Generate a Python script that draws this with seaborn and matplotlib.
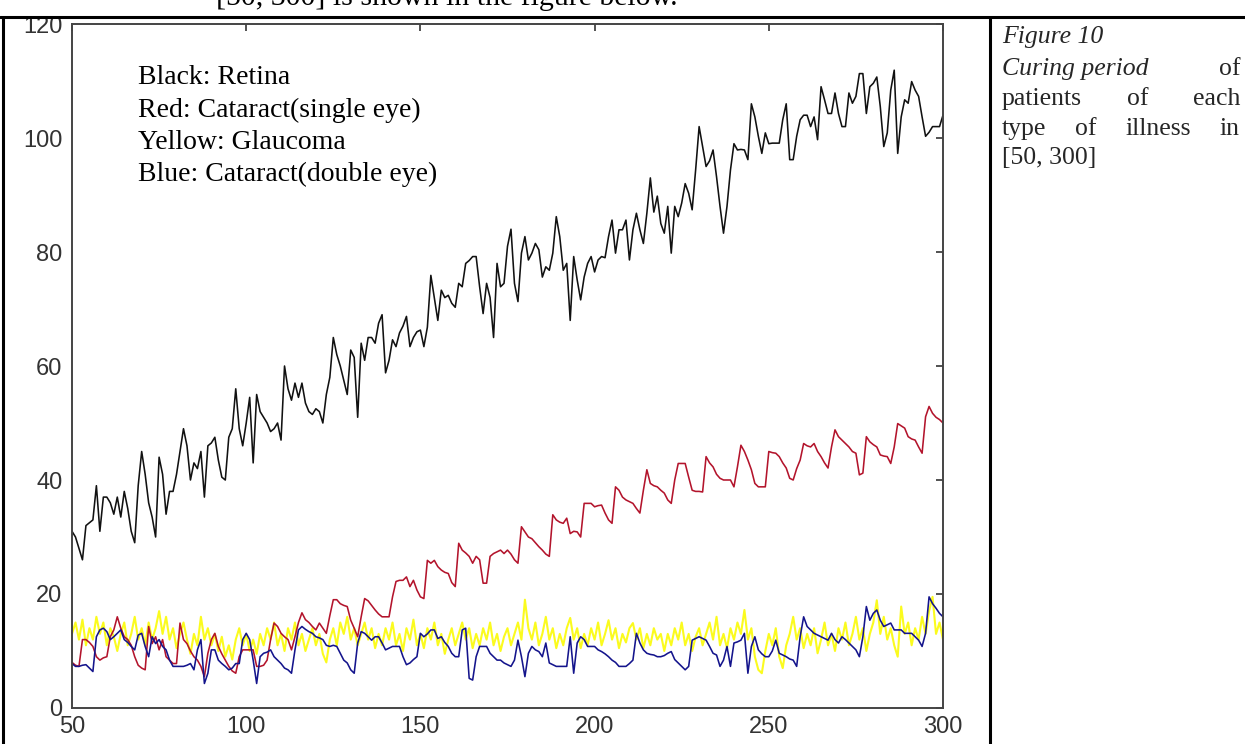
import matplotlib
matplotlib.use("Agg")
import matplotlib.pyplot as plt
from matplotlib.lines import Line2D
import numpy as np
import pandas as pd
import seaborn as sns

# ---------------- data ----------------
days = list(range(50, 301))

retina = [
    31, 30, 28, 26, 32, 32.5, 33, 39, 31, 37,
    37, 36, 34, 37, 33.5, 38, 35, 31, 29, 39,
    45, 41, 36, 33.5, 30, 44, 41, 34, 38, 38,
    41, 45, 49, 46, 40, 43, 42, 45, 37, 46,
    46.5, 47.5, 43.5, 40.5, 40, 47.5, 49, 56, 49, 46,
    50, 54.5, 43, 55, 52, 51, 50, 48.5, 49, 50,
    47, 60, 56, 54, 57, 54.5, 57, 53.5, 52, 51.5,
    52.5, 52, 50, 55, 58, 65, 62, 60, 57.5, 55,
    62.8, 61.5, 51, 64, 61, 65, 65, 64, 67.5, 69,
    58.8, 61, 64.6, 63.4, 65.8, 67, 68.7, 63.4, 65, 66,
    66.3, 63.4, 66.8, 75.9, 72, 68, 73.3, 72, 72.4, 71,
    70.3, 74.5, 73.9, 78, 78.5, 79.2, 79.2, 73.9, 69.2, 74.5,
    72, 65, 78, 73.9, 74.5, 81, 84, 74.5, 71.3, 79.8,
    82.7, 78.6, 79.8, 81.5, 80.4, 75.6, 77.4, 76.8, 79.8, 86.2,
    82.7, 76.8, 78, 68, 79.2, 75.1, 71.6, 75.6, 78, 79.2,
    76.5, 78.6, 79.2, 79, 82.7, 85.6, 79.8, 83.9, 83.9, 85.6,
    78.6, 83.9, 86.8, 83.9, 81.5, 86.8, 93, 87, 89.8, 85,
    83.3, 88, 79.8, 88, 86.2, 88.6, 92, 90.3, 87.4, 94.4,
    102, 98.5, 95, 96, 97.9, 93.2, 88, 83.3, 88, 94.4,
    99, 97.9, 98, 97.9, 96.2, 106, 103.7, 100.3, 97.3, 100.9,
    99, 99.1, 99.1, 99.1, 103.2, 106, 96.2, 96.2, 100.3, 103.2,
    104, 104, 102, 103.7, 99.7, 109, 106.7, 104.3, 104.3, 107.9,
    104.3, 102, 102, 107.9, 106.1, 107.3, 111.3, 111.3, 104.3, 109,
    109.6, 110.7, 105.5, 98.5, 100.9, 108.4, 111.9, 97.3, 103.7, 106.7,
    106.1, 109.9, 108.4, 107.3, 103.7, 100.3, 101, 102, 102, 102,
    104,
]

cataract_single = [
    8, 7.5, 7.3, 12, 12, 11.5, 10.8, 9, 8.4, 8.8,
    9, 12.5, 13.7, 16, 14, 12.5, 12, 11, 9, 7.5,
    7, 6.7, 14.3, 11.3, 12.5, 10.2, 12, 9, 8.4, 7.8,
    7.8, 14.9, 12, 11.3, 10, 9, 8.4, 7.3, 5.5, 9.6,
    12, 13.1, 10.8, 9.5, 8.4, 7.3, 6.5, 6.1, 9, 10.2,
    10.2, 10.2, 10.2, 7.3, 7.3, 7.5, 8.4, 12, 14.9, 14.3,
    13.1, 12.5, 12, 10.2, 12.5, 15, 16.7, 15.5, 15, 14.3,
    13.7, 14.9, 14, 13.1, 16.2, 19, 19, 18.3, 18, 17.8,
    15.4, 14, 12.5, 16, 19.2, 18.8, 18, 17.2, 16.5, 16,
    16, 16, 19.5, 22.2, 22.4, 22.4, 23, 21.3, 22.4, 20.7,
    19.5, 19.2, 25.9, 25.4, 25.9, 24.8, 24.2, 23.8, 23.6, 22,
    21.3, 28.9, 27.7, 27.2, 26.6, 25.4, 26.6, 26, 21.9, 21.9,
    26.6, 27.1, 27.4, 27.7, 27.1, 27.7, 27, 26, 25.4, 31.8,
    30.9, 30, 29.7, 29, 28.3, 27.7, 27, 26.6, 33.9, 33,
    32.6, 32.4, 33.3, 30.6, 31, 30.9, 30, 35.9, 35.9, 35.9,
    35.3, 35.5, 35.6, 34.2, 33, 32.4, 38.8, 38.2, 37, 36.5,
    36.2, 35.9, 35, 34.2, 38.2, 41.8, 39.4, 39, 38.8, 38.2,
    37.7, 36.5, 35.9, 40, 42.9, 42.9, 42.9, 40.5, 38.2, 38,
    38, 37.9, 44.1, 43, 42.3, 41, 40.3, 40, 40, 40,
    38.8, 42.3, 46.1, 45, 43.5, 41.8, 39.4, 38.8, 38.8, 38.8,
    45, 44.8, 44.7, 44.1, 43, 42.1, 40.3, 40, 42, 43.5,
    46.4, 46, 45.8, 46.4, 45, 44.1, 43, 42.1, 45.8, 48.8,
    47.6, 47, 46.4, 45.8, 45, 44.7, 40.9, 41.2, 47.6, 46.7,
    46.2, 45.8, 44.4, 44.2, 44.1, 42.9, 45.8, 49.9, 49.5, 49.1,
    47.6, 47.2, 47, 45.8, 44.7, 51.1, 52.9, 51.7, 51, 50.6,
    50,
]

glaucoma = [
    13, 15, 12, 15.5, 11, 14, 12, 16, 13, 15,
    11, 14, 12.5, 10, 13, 15, 11, 13, 16, 12,
    14, 11, 15, 12, 14, 17, 13, 16, 12, 14,
    10.5, 13, 15, 12, 9.5, 13, 11, 16, 12, 14,
    11, 13, 10, 12.5, 9, 11, 8.5, 12, 14, 11,
    13, 10, 12, 9.5, 13, 11, 14, 12, 15, 11,
    13, 10, 14, 12, 15, 11, 13, 10, 12, 14,
    11, 13, 9.5, 8, 12, 14, 11, 15, 13, 16,
    12, 14, 11, 13, 15, 12, 14, 10.5, 13, 11,
    14, 12, 15, 11, 13, 10, 14, 12, 15.5, 11,
    13, 10.5, 14, 12, 15, 11, 13, 9.5, 12, 14,
    11, 13, 15, 12, 14, 10.5, 13, 11, 14, 12,
    15, 11, 13, 10, 12.5, 14, 11, 13, 15, 12,
    19, 14, 12, 15, 11, 13, 16, 12, 14, 10.5,
    13, 11, 14, 15.8, 12, 14, 10.5, 13, 11, 14,
    12, 15, 11, 13, 15.4, 12, 14, 10.5, 13, 11.5,
    14, 14.9, 12, 14, 10.5, 13, 11, 14, 12, 13,
    10, 13, 11, 14, 12, 15, 11, 13, 10, 12.5,
    14, 11, 13, 15, 12, 16, 11, 13, 10.5, 14,
    12, 15, 13, 17.2, 12, 14, 9, 6.7, 6.1, 10,
    13, 11, 14, 9, 7, 11, 13, 16, 12, 14,
    10.5, 13, 11, 14, 9.6, 12, 15, 11, 13, 10,
    14, 12, 15, 11, 13, 16, 12, 14, 10, 13,
    15, 18.9, 13, 16, 12, 14, 11, 9, 17.8, 13,
    15, 11, 14, 12, 16, 13, 17, 19.5, 13, 15,
    12,
]

cataract_double = [
    7.8, 7.3, 7.3, 7.5, 7.6, 7, 6.4, 12.5, 13.7, 14,
    13.4, 12, 12.5, 13.1, 13.7, 12, 11.5, 10.8, 10.2, 12.8,
    13.1, 10.8, 9, 12.5, 11.3, 12, 10.8, 10.2, 8.4, 7.3,
    7.3, 7.3, 7.3, 7.5, 7.8, 6.7, 10.2, 12, 4.3, 6.1,
    10.2, 10.2, 8.4, 7.8, 7.3, 6.7, 7, 7.8, 7.8, 12,
    13.1, 12, 8.4, 4.3, 9, 9.6, 9.8, 10.2, 9, 8.4,
    7.8, 7, 6.7, 6.1, 10.2, 13.7, 14.3, 13.8, 13.4, 13.1,
    12.5, 12.3, 12, 11, 10.8, 11, 10.8, 9.6, 8.4, 7.9,
    6.7, 6.1, 11.4, 13.4, 13.1, 12.5, 11.9, 12.5, 12.5, 11.4,
    10.2, 10.5, 10.8, 10.8, 10.8, 9, 7.6, 7.9, 8.5, 9,
    13.1, 12.5, 13, 13.7, 13.7, 12.2, 12.5, 11.5, 10.8, 9.6,
    9, 9, 13.7, 14, 5.2, 4.9, 9, 10.8, 10.8, 10.8,
    9.6, 9, 8.4, 8.4, 7.9, 7.6, 7.3, 8.4, 11.9, 9,
    5.5, 9.6, 10.8, 10.2, 9.9, 9, 11.4, 7.9, 7.6, 7.3,
    7.3, 7.3, 7.3, 12.5, 6.1, 11.4, 12.5, 12, 10.8, 10.8,
    10.8, 10.2, 9.9, 9.5, 9, 8.4, 8, 7.3, 7.3, 7.3,
    7.8, 8.4, 13.1, 11.4, 10.2, 9.6, 9.4, 9.3, 9, 9,
    9.2, 9.6, 9.9, 8.5, 7.9, 7.3, 6.7, 7.3, 11.9, 12.2,
    12.5, 12.2, 11.9, 10.8, 9.6, 9.3, 7.3, 8.4, 10.8, 7.3,
    11.4, 11.6, 11.9, 13.1, 6.1, 10.8, 12.5, 10.2, 9.5, 9,
    9, 10, 11.9, 9.6, 9.3, 9, 8.6, 8.4, 7.3, 12.5,
    16, 14.3, 13.7, 13.1, 12.8, 12.5, 12.2, 11.9, 13.1, 12,
    11.4, 12.5, 12, 11.4, 10.8, 10.2, 9, 12.5, 17.8, 15.4,
    16.6, 17.2, 15.4, 14.3, 14.6, 14.9, 13.7, 13.7, 13.7, 13.1,
    13.1, 13.1, 12.5, 11.9, 10.8, 13.1, 19.5, 18.3, 17.5, 16.6,
    16,
]

x_ticks = [50, 100, 150, 200, 250, 300]
y_ticks = [0, 20, 40, 60, 80, 100, 120]

legend_lines = ["Black: Retina", "Red: Cataract(single eye)",
                "Yellow: Glaucoma", "Blue: Cataract(double eye)"]

# ---------------- figure ----------------
sns.set_style("white")
plt.rcParams["font.family"] = ["Liberation Sans", "DejaVu Sans"]

W, H = 1245, 744
fig = plt.figure(figsize=(W / 100, H / 100), dpi=100)
fig.patch.set_facecolor("white")


def fx(px):
    return px / W


def fy(py):
    return 1 - py / H


ax_l, ax_r, ax_t, ax_b = 72, 943, 24, 708
ax = fig.add_axes([fx(ax_l), fy(ax_b), (ax_r - ax_l) / W, (ax_b - ax_t) / H])

df = pd.DataFrame({
    "day": days * 4,
    "value": glaucoma + retina + cataract_single + cataract_double,
    "series": (["Glaucoma"] * len(days) + ["Retina"] * len(days)
               + ["Cataract single"] * len(days) + ["Cataract double"] * len(days)),
})

styles = {
    "Glaucoma": ("#fbfb1e", 1.5),
    "Retina": ("#111111", 1.15),
    "Cataract single": ("#b3142c", 1.15),
    "Cataract double": ("#14148c", 1.15),
}
for name, (col, lw) in styles.items():
    sub = df[df["series"] == name]
    sns.lineplot(data=sub, x="day", y="value", color=col, linewidth=lw,
                 estimator=None, ax=ax, legend=False)

ax.set_xlim(50, 300)
ax.set_ylim(0, 120)
ax.set_xticks(x_ticks)
ax.set_yticks(y_ticks)
ax.set_xticklabels([str(v) for v in x_ticks])
ax.set_yticklabels([str(v) for v in y_ticks])
ax.set_xlabel("")
ax.set_ylabel("")
ax.tick_params(direction="in", length=5, width=1.2, color="#333333",
               top=True, right=True, labelcolor="#333333", labelsize=17)
ax.tick_params(axis="y", pad=7)
ax.tick_params(axis="x", pad=6)
for s in ax.spines.values():
    s.set_visible(True)
    s.set_color("#444444")
    s.set_linewidth(1.4)
ax.grid(False)

# legend-like text inside the axes
serif = ["Liberation Serif", "DejaVu Serif"]
for i, t in enumerate(legend_lines):
    fig.text(fx(138), fy(78 + i * 32.3), t, family=serif, fontsize=20,
             va="center", ha="left", color="black")

# table borders of the document
fig.add_artist(Line2D([0, 1], [fy(17), fy(17)], color="black", lw=2.2,
                      transform=fig.transFigure))
fig.add_artist(Line2D([fx(3), fx(3)], [fy(17), 0], color="black", lw=2.2,
                      transform=fig.transFigure))
fig.add_artist(Line2D([fx(990), fx(990)], [fy(17), 0], color="black", lw=2.2,
                      transform=fig.transFigure))

# cut-off line of text above the table
fig.text(fx(216), fy(5), "[50, 300] is shown in the figure below.", family=serif,
         fontsize=21.5, va="baseline", ha="left", color="black")

# caption on the right (justified paragraph)
cap_l, cap_r = 1002, 1240
fs = 18.5
renderer = fig.canvas.get_renderer()


def justified(words, y, styles_):
    """Place words of one line so that they fill cap_l..cap_r."""
    texts = [fig.text(0, fy(y), w, family=serif, style=st, fontsize=fs,
                      va="center", ha="left") for w, st in zip(words, styles_)]
    widths = [t.get_window_extent(renderer).width for t in texts]
    gap = (cap_r - cap_l - sum(widths)) / max(len(words) - 1, 1)
    x = cap_l
    for t, w in zip(texts, widths):
        t.set_x(fx(x))
        x += w + gap


fig.text(fx(cap_l), fy(37), "Figure 10", family=serif, style="italic",
         fontsize=fs, va="center", ha="left")
justified(["Curing period", "of"], 69, ["italic", "normal"])
justified(["patients", "of", "each"], 99, ["normal"] * 3)
justified(["type", "of", "illness", "in"], 129, ["normal"] * 4)
fig.text(fx(cap_l), fy(158), "[50, 300]", family=serif, fontsize=fs,
         va="center", ha="left")

fig.savefig("out.png", dpi=100, facecolor="white")
